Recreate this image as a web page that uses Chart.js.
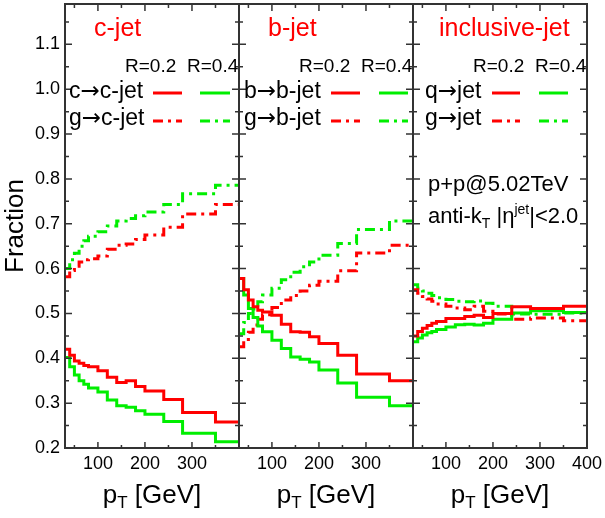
<!DOCTYPE html>
<html>
<head>
<meta charset="utf-8">
<script src="https://cdn.jsdelivr.net/npm/chart.js@4.4.0/dist/chart.umd.min.js"></script>
<style>
  html, body { margin: 0; padding: 0; background: #fff; }
  #wrap { position: relative; width: 605px; height: 518px; }
</style>
</head>
<body>
<div id="wrap"><canvas id="fractions" width="605" height="518"></canvas></div>
<script>
// pT bin edges [GeV], same for every panel
var binEdges = [30, 40, 50, 60, 70, 80, 100, 120, 140, 160, 180, 200, 240, 280, 350, 400];

// c-jet panel
var cToCjet_R02 = [0.420, 0.407, 0.394, 0.389, 0.384, 0.381, 0.372, 0.358, 0.346, 0.350, 0.337, 0.327, 0.308, 0.279, 0.258];
var cToCjet_R04 = [0.402, 0.381, 0.363, 0.350, 0.342, 0.334, 0.325, 0.307, 0.294, 0.291, 0.283, 0.275, 0.259, 0.233, 0.214];
var gToCjet_R02 = [0.582, 0.596, 0.605, 0.615, 0.620, 0.622, 0.628, 0.643, 0.652, 0.655, 0.665, 0.675, 0.692, 0.722, 0.743];
var gToCjet_R04 = [0.600, 0.620, 0.634, 0.650, 0.662, 0.672, 0.682, 0.695, 0.706, 0.712, 0.718, 0.726, 0.743, 0.767, 0.786];

// b-jet panel
var bToBjet_R02 = [0.578, 0.553, 0.530, 0.515, 0.507, 0.503, 0.496, 0.476, 0.459, 0.458, 0.448, 0.433, 0.407, 0.365, 0.350];
var bToBjet_R04 = [0.578, 0.541, 0.511, 0.491, 0.472, 0.459, 0.440, 0.422, 0.403, 0.398, 0.392, 0.374, 0.345, 0.313, 0.294];
var gToBjet_R02 = [0.426, 0.442, 0.458, 0.474, 0.487, 0.497, 0.513, 0.530, 0.540, 0.550, 0.563, 0.572, 0.595, 0.635, 0.652];
var gToBjet_R04 = [0.455, 0.480, 0.500, 0.510, 0.526, 0.541, 0.556, 0.575, 0.592, 0.604, 0.615, 0.630, 0.656, 0.687, 0.706];

// inclusive-jet panel
var qToJet_R02 = [0.450, 0.460, 0.467, 0.473, 0.478, 0.482, 0.489, 0.489, 0.493, 0.496, 0.491, 0.500, 0.515, 0.511, 0.516];
var qToJet_R04 = [0.437, 0.445, 0.452, 0.457, 0.460, 0.464, 0.470, 0.475, 0.476, 0.474, 0.478, 0.487, 0.501, 0.506, 0.502];
var gToJet_R02 = [0.553, 0.545, 0.538, 0.532, 0.527, 0.521, 0.516, 0.512, 0.508, 0.516, 0.505, 0.499, 0.487, 0.490, 0.484];
var gToJet_R04 = [0.564, 0.556, 0.550, 0.545, 0.540, 0.535, 0.531, 0.527, 0.526, 0.528, 0.523, 0.516, 0.499, 0.498, 0.501];

var xTicks = [100, 200, 300];
var xTicksLast = [100, 200, 300, 400];
var xMinorTicks = [50, 150, 250, 350];
var yTicks = [0.2, 0.3, 0.4, 0.5, 0.6, 0.7, 0.8, 0.9, 1.0, 1.1];
var yMinorTicks = [0.25, 0.35, 0.45, 0.55, 0.65, 0.75, 0.85, 0.95, 1.05, 1.15];

var panelTitles = ['c-jet', 'b-jet', 'inclusive-jet'];
var quarkLabels = ['c\u2192c-jet', 'b\u2192b-jet', 'q\u2192jet'];
var gluonLabels = ['g\u2192c-jet', 'g\u2192b-jet', 'g\u2192jet'];
var radiusLabels = ['R=0.2', 'R=0.4'];

var RED = '#ff0000';
var GREEN = '#00ee00';
var DASHDOT = [10, 5, 3, 5];
var FONT = 'Liberation Sans, Arial, sans-serif';

// offsets of the in-panel texts, relative to each panel's left edge
var panelLayout = [
  { title: 29, text: 4, red: [88, 117], green: [135, 165] },
  { title: 29, text: 5, red: [92, 121], green: [140, 169] },
  { title: 26, text: 12, red: [79, 107], green: [126, 155] }
];

function histPoints(values) {
  var pts = values.map(function(v, i) { return { x: binEdges[i], y: v }; });
  pts.push({ x: binEdges[binEdges.length - 1], y: values[values.length - 1] });
  return pts;
}

function histSet(values, color, dashed, axis) {
  return {
    data: histPoints(values),
    borderColor: color,
    borderWidth: 3,
    borderDash: dashed ? DASHDOT : [],
    pointRadius: 0,
    stepped: true,
    fill: false,
    xAxisID: axis,
    yAxisID: 'y'
  };
}

function panelAxis(ticks) {
  return {
    type: 'linear',
    position: 'bottom',
    stack: 'panels',
    stackWeight: 1,
    min: 30,
    max: 400,
    afterBuildTicks: function(s) { s.ticks = ticks.map(function(v) { return { value: v }; }); },
    afterFit: function(s) { s.height = 70; s.paddingLeft = 0; s.paddingRight = 0; },
    grid: { display: false, drawTicks: false },
    border: { display: false },
    ticks: { color: '#000', font: { size: 18, family: FONT }, padding: 5, maxRotation: 0, autoSkip: false }
  };
}

function drawPt(ctx, cx, baseline) {
  ctx.font = '26px ' + FONT;
  var wp = ctx.measureText('p').width;
  var wg = ctx.measureText(' [GeV]').width;
  ctx.font = '17px ' + FONT;
  var wt = ctx.measureText('T').width;
  var x = cx - (wp + wt + wg) / 2;
  ctx.textAlign = 'left';
  ctx.textBaseline = 'alphabetic';
  ctx.font = '26px ' + FONT;
  ctx.fillText('p', x, baseline);
  ctx.font = '17px ' + FONT;
  ctx.fillText('T', x + wp, baseline + 5);
  ctx.font = '26px ' + FONT;
  ctx.fillText(' [GeV]', x + wp + wt, baseline);
}

// legend label with a long arrow taken from DejaVu Sans
function drawReaction(ctx, label, x, baseline) {
  var parts = label.split('\u2192');
  ctx.font = '23px ' + FONT;
  ctx.fillText(parts[0], x, baseline);
  x += ctx.measureText(parts[0]).width;
  ctx.font = '23px DejaVu Sans';
  ctx.fillText('\u2192', x, baseline);
  x += ctx.measureText('\u2192').width;
  ctx.font = '23px ' + FONT;
  ctx.fillText(parts[1], x, baseline);
}

function sampleLine(ctx, x0, x1, y, color, dashed) {
  ctx.save();
  ctx.strokeStyle = color;
  ctx.lineWidth = 3;
  ctx.setLineDash(dashed ? DASHDOT : []);
  ctx.beginPath();
  ctx.moveTo(x0, y);
  ctx.lineTo(x1, y);
  ctx.stroke();
  ctx.restore();
}

var decorPlugin = {
  id: 'decor',
  afterDraw: function(chart) {
    var ctx = chart.ctx;
    var ca = chart.chartArea;
    var ys = chart.scales.y;
    ['x1', 'x2', 'x3'].forEach(function(id, p) {
      var xs = chart.scales[id];
      var l = xs.left, r = xs.right, t = ca.top, b = ca.bottom;
      ctx.save();
      ctx.strokeStyle = '#333';
      ctx.lineWidth = 1.5;
      ctx.beginPath();
      yTicks.forEach(function(v) {
        var py = ys.getPixelForValue(v);
        ctx.moveTo(l, py); ctx.lineTo(l + 7, py);
        ctx.moveTo(r, py); ctx.lineTo(r - 7, py);
      });
      yMinorTicks.forEach(function(v) {
        var py = ys.getPixelForValue(v);
        ctx.moveTo(l, py); ctx.lineTo(l + 4, py);
        ctx.moveTo(r, py); ctx.lineTo(r - 4, py);
      });
      xTicksLast.forEach(function(v) {
        var px = xs.getPixelForValue(v);
        ctx.moveTo(px, b); ctx.lineTo(px, b - 6);
        ctx.moveTo(px, t); ctx.lineTo(px, t + 7);
      });
      xMinorTicks.forEach(function(v) {
        var px = xs.getPixelForValue(v);
        ctx.moveTo(px, b); ctx.lineTo(px, b - 3);
        ctx.moveTo(px, t); ctx.lineTo(px, t + 4);
      });
      ctx.stroke();
      ctx.lineWidth = 2;
      ctx.strokeRect(l, t, r - l, b - t);

      var lay = panelLayout[p];
      ctx.fillStyle = RED;
      ctx.textAlign = 'left';
      ctx.textBaseline = 'alphabetic';
      ctx.font = '25px ' + FONT;
      ctx.fillText(panelTitles[p], l + lay.title, 36);

      ctx.fillStyle = '#000';
      ctx.font = '19px ' + FONT;
      ctx.fillText(radiusLabels[0], l + 60, 72);
      ctx.fillText(radiusLabels[1], l + 122, 72);

      drawReaction(ctx, quarkLabels[p], l + lay.text, 98);
      drawReaction(ctx, gluonLabels[p], l + lay.text, 125);
      sampleLine(ctx, l + lay.red[0], l + lay.red[1], 93, RED, false);
      sampleLine(ctx, l + lay.green[0], l + lay.green[1], 93, GREEN, false);
      sampleLine(ctx, l + lay.red[0], l + lay.red[1], 121, RED, true);
      sampleLine(ctx, l + lay.green[0], l + lay.green[1], 121, GREEN, true);

      ctx.fillStyle = '#000';
      drawPt(ctx, (l + r) / 2, 503);
      ctx.restore();
    });

    // collision info in the inclusive panel
    var x3 = chart.scales.x3.left + 15;
    ctx.save();
    ctx.fillStyle = '#000';
    ctx.textAlign = 'left';
    ctx.textBaseline = 'alphabetic';
    ctx.font = '22px ' + FONT;
    ctx.fillText('p+p@5.02TeV', x3, 191);
    var x = x3;
    ctx.fillText('anti-k', x, 223); x += ctx.measureText('anti-k').width;
    ctx.font = '14px ' + FONT;
    ctx.fillText('T', x, 228); x += ctx.measureText('T').width;
    ctx.font = '22px ' + FONT;
    ctx.fillText(' |\u03b7', x, 223); x += ctx.measureText(' |\u03b7').width;
    ctx.font = '14px ' + FONT;
    ctx.fillText('jet', x, 214); x += ctx.measureText('jet').width;
    ctx.font = '22px ' + FONT;
    ctx.fillText('|<2.0', x, 223);
    ctx.restore();
  }
};

var datasets = [
  histSet(cToCjet_R02, RED, false, 'x1'),
  histSet(cToCjet_R04, GREEN, false, 'x1'),
  histSet(gToCjet_R02, RED, true, 'x1'),
  histSet(gToCjet_R04, GREEN, true, 'x1'),
  histSet(bToBjet_R02, RED, false, 'x2'),
  histSet(bToBjet_R04, GREEN, false, 'x2'),
  histSet(gToBjet_R02, RED, true, 'x2'),
  histSet(gToBjet_R04, GREEN, true, 'x2'),
  histSet(qToJet_R02, RED, false, 'x3'),
  histSet(qToJet_R04, GREEN, false, 'x3'),
  histSet(gToJet_R02, RED, true, 'x3'),
  histSet(gToJet_R04, GREEN, true, 'x3')
];

new Chart(document.getElementById('fractions'), {
  type: 'line',
  data: { datasets: datasets },
  options: {
    responsive: false,
    animation: false,
    devicePixelRatio: 1,
    layout: { padding: { left: 0, top: 4, right: 18, bottom: 0 } },
    plugins: { legend: { display: false }, tooltip: { enabled: false } },
    scales: {
      x1: panelAxis(xTicks),
      x2: panelAxis(xTicks),
      x3: panelAxis(xTicksLast),
      y: {
        type: 'linear',
        position: 'left',
        min: 0.2,
        max: 1.19,
        afterBuildTicks: function(s) { s.ticks = yTicks.map(function(v) { return { value: v }; }); },
        afterFit: function(s) { s.width = 65; s.paddingTop = 0; s.paddingBottom = 0; },
        grid: { display: false, drawTicks: false },
        border: { display: false },
        ticks: {
          color: '#000',
          font: { size: 18, family: FONT },
          padding: 5,
          callback: function(v) { return v.toFixed(1); }
        },
        title: { display: true, text: 'Fraction', color: '#000', font: { size: 26, family: FONT }, padding: 0 }
      }
    }
  },
  plugins: [decorPlugin]
});
</script>
</body>
</html>
